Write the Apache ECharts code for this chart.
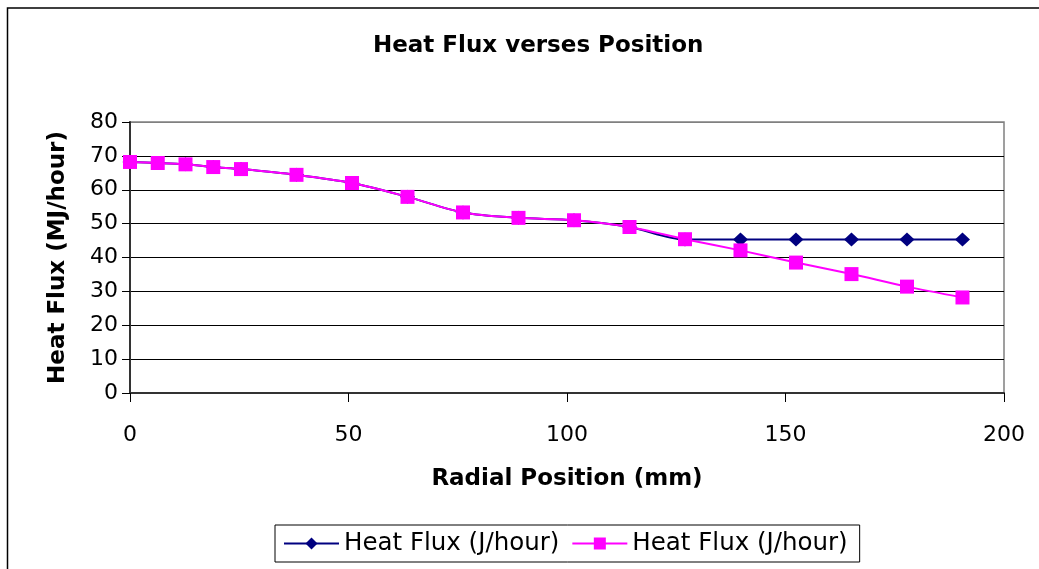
<!DOCTYPE html>
<html>
<head>
<meta charset="utf-8">
<script src="https://cdn.jsdelivr.net/npm/echarts@6/dist/echarts.min.js"></script>
<style>html,body{margin:0;padding:0;background:#fff;}#c{width:1039px;height:569px;}</style>
</head>
<body>
<div id="c"></div>
<script>
var radialPosition = [0, 6.35, 12.7, 19.05, 25.4, 38.1, 50.8, 63.5, 76.2, 88.9, 101.6, 114.3, 127, 139.7, 152.4, 165.1, 177.8, 190.5];
var heatFluxA = [68.2, 67.9, 67.5, 66.7, 66.1, 64.4, 62.0, 57.9, 53.3, 51.7, 51.0, 49.0, 45.3, 45.3, 45.3, 45.3, 45.3, 45.3];
var heatFluxB = [68.2, 67.9, 67.5, 66.7, 66.1, 64.4, 62.0, 57.9, 53.3, 51.7, 51.0, 49.0, 45.4, 42.1, 38.5, 35.1, 31.4, 28.2];
var seriesNames = ['Heat Flux (J/hour)', 'Heat Flux (J/hour) '];

function pairs(xs, ys) { return xs.map(function (x, i) { return [x, ys[i]]; }); }

var FONT = 'DejaVu Sans';
var chart = echarts.init(document.getElementById('c'));
chart.setOption({
  animation: false,
  backgroundColor: '#fff',
  title: {
    text: 'Heat Flux verses Position',
    left: 368, top: 30,
    textStyle: { fontFamily: FONT, fontSize: 23, fontWeight: 'bold', color: '#000' }
  },
  graphic: [{
    type: 'rect', silent: true,
    shape: { x: 7.5, y: 8, width: 1100, height: 620 },
    style: { fill: 'none', stroke: '#000', lineWidth: 1.5 }
  }],
  legend: {
    left: 275, top: 525,
    padding: [6, 12, 6, 8],
    itemGap: 12, itemWidth: 55, itemHeight: 15,
    borderColor: '#000', borderWidth: 1,
    lineStyle: { width: 2 },
    textStyle: { fontFamily: FONT, fontSize: 24.5, color: '#000' },
    formatter: function (n) { return n.trim(); },
    data: seriesNames
  },
  grid: {
    left: 130, right: 35, top: 122, bottom: 176,
    show: true, borderColor: '#808080', borderWidth: 1.5
  },
  xAxis: {
    type: 'value', min: 0, max: 200, interval: 50,
    name: 'Radial Position (mm)', nameLocation: 'middle', nameGap: 75,
    nameTextStyle: { fontFamily: FONT, fontSize: 23, fontWeight: 'bold', color: '#000' },
    axisLine: { show: true, lineStyle: { color: '#333', width: 2 } },
    axisTick: { show: true, inside: false, length: 9, lineStyle: { color: '#000', width: 1 } },
    axisLabel: { margin: 31, fontFamily: FONT, fontSize: 22, color: '#000' },
    splitLine: { show: false }
  },
  yAxis: {
    type: 'value', min: 0, max: 80, interval: 10,
    name: 'Heat Flux (MJ/hour)', nameLocation: 'middle', nameGap: 60, nameRotate: 90,
    nameTextStyle: { fontFamily: FONT, fontSize: 23, fontWeight: 'bold', color: '#000' },
    axisLine: { show: true, lineStyle: { color: '#333', width: 2 } },
    axisTick: { show: true, inside: false, length: 8, lineStyle: { color: '#000', width: 1 } },
    axisLabel: { margin: 12, fontFamily: FONT, fontSize: 22, color: '#000' },
    splitLine: { show: true, lineStyle: { color: ['#000', '#000', '#000', '#000', '#000', '#000', '#000', '#000', '#808080'], width: 1 } }
  },
  series: [{
    name: seriesNames[0], type: 'line', smooth: 0.3,
    data: pairs(radialPosition, heatFluxA),
    symbol: 'diamond', symbolSize: [15, 14],
    itemStyle: { color: '#000080' },
    lineStyle: { color: '#000080', width: 2 },
    z: 2
  }, {
    name: seriesNames[1], type: 'line', smooth: 0.3,
    data: pairs(radialPosition, heatFluxB),
    symbol: 'rect', symbolSize: 14,
    itemStyle: { color: '#FF00FF' },
    lineStyle: { color: '#FF00FF', width: 2 },
    z: 3
  }]
});
</script>
</body>
</html>
